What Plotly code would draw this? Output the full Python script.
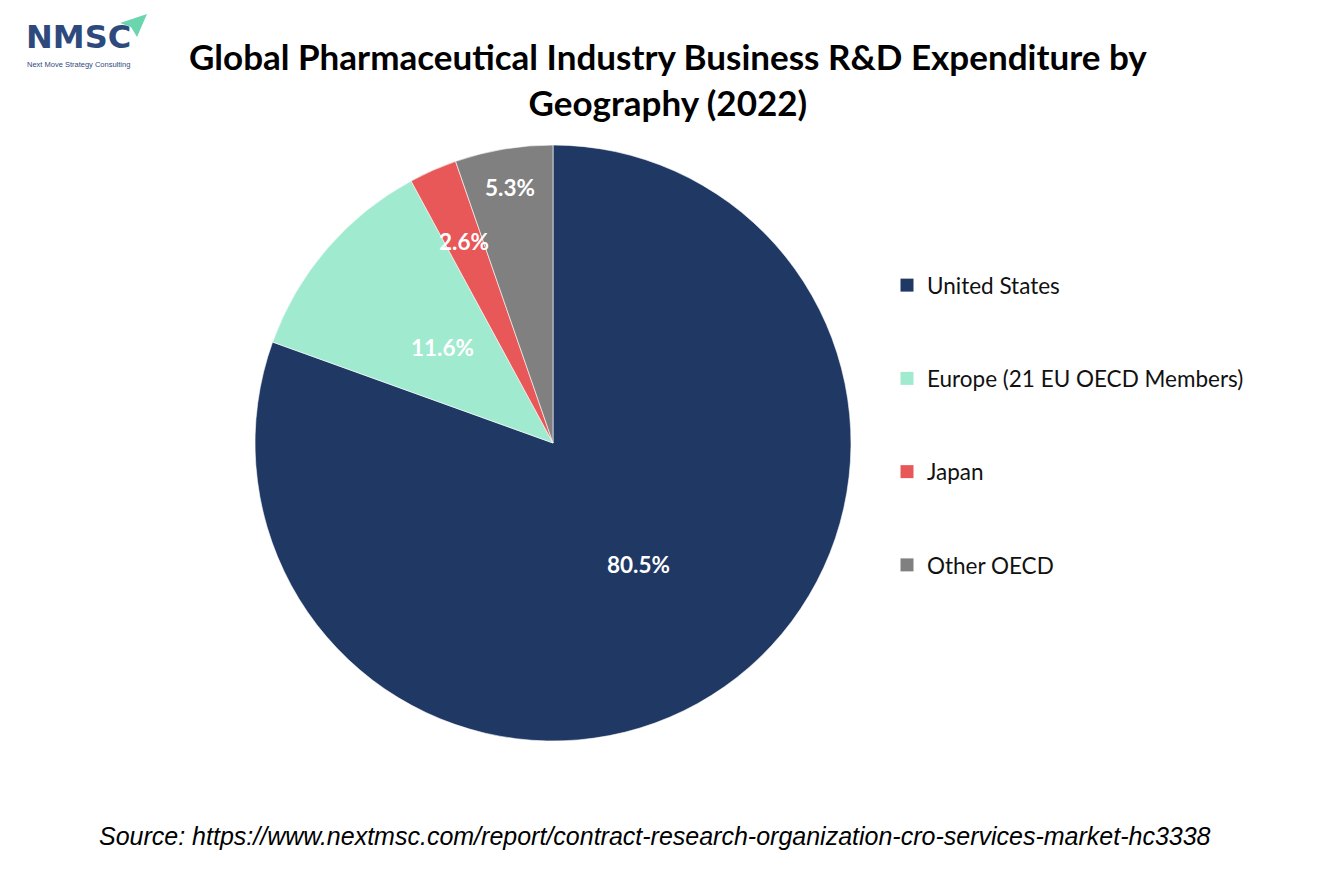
import math
import plotly.graph_objects as go

regions = ["United States", "Europe (21 EU OECD Members)", "Japan", "Other OECD"]
shares = [80.5, 11.6, 2.6, 5.3]
colors = ["#203864", "#A0EAD0", "#E85858", "#808080"]
label_radius = [0.5, 0.49, 0.74, 0.87]  # fraction of radius where each % label sits

title_text = "Global Pharmaceutical Industry Business R&D Expenditure by<br>Geography (2022)"
source_text = "Source: https://www.nextmsc.com/report/contract-research-organization-cro-services-market-hc3338"

W, H = 1334, 889
OFF = 8  # page body margin
CX, CY, R = 553 - OFF, 443 - OFF, 298

fig = go.Figure()
fig.add_trace(go.Pie(
    labels=regions,
    values=shares,
    sort=False,
    direction="clockwise",
    rotation=0,
    marker=dict(colors=colors, line=dict(color="white", width=0.6)),
    textinfo="none",
    showlegend=False,
    hoverinfo="label+value",
    domain=dict(x=[(CX - R) / W, (CX + R) / W], y=[1 - (CY + R) / H, 1 - (CY - R) / H]),
))

for i, (name, col) in enumerate(zip(regions, colors)):
    fig.add_trace(go.Scatter(
        x=[None], y=[None], mode="markers", name=name,
        legendgroup=f"g{i}",
        marker=dict(symbol="square", size=13, color=col),
    ))

annotations = []
total = sum(shares)
cum = 0.0
for v, f in zip(shares, label_radius):
    mid = (cum + v / 2) / total * 2 * math.pi
    cum += v
    px = CX + f * R * math.sin(mid)
    py = CY - f * R * math.cos(mid)
    annotations.append(dict(
        text=f"{v:.1f}%", x=px / W, y=1 - py / H, xref="paper", yref="paper",
        xanchor="center", yanchor="middle", showarrow=False,
        font=dict(family="Lato", size=22.5, color="white", weight="bold"),
    ))

annotations += [
    dict(text=title_text, x=(668 - OFF) / W, y=1 - (79 - OFF) / H, xref="paper", yref="paper",
         xanchor="center", yanchor="middle", showarrow=False,
         font=dict(family="Lato", size=35, color="black", weight="bold")),
    dict(text=source_text, x=(655 - OFF) / W, y=1 - (836 - OFF) / H, xref="paper", yref="paper",
         xanchor="center", yanchor="middle", showarrow=False,
         font=dict(family="Liberation Sans", size=25, color="black", style="italic")),
    dict(text="NMSC", x=(24 - OFF) / W, y=1 - (58 - OFF) / H, xref="paper", yref="paper",
         xanchor="left", yanchor="bottom", showarrow=False,
         font=dict(family="DejaVu Sans", size=32, color="#2E4A7D", weight="bold")),
    dict(text="Next Move Strategy Consulting", x=(25 - OFF) / W, y=1 - (58 - OFF) / H,
         xref="paper", yref="paper", xanchor="left", yanchor="top", showarrow=False,
         font=dict(family="Liberation Sans", size=7.5, color="#2E4A7D")),
]

def pt(x, y):
    return f"{(x - OFF) / W} {1 - (y - OFF) / H}"

fig.update_layout(
    width=W, height=H,
    margin=dict(l=0, r=0, t=0, b=0),
    paper_bgcolor="white", plot_bgcolor="white",
    xaxis=dict(visible=False), yaxis=dict(visible=False),
    legend=dict(
        x=879 / W, y=1 - 256 / H, xanchor="left", yanchor="top",
        font=dict(family="Lato", size=22.5, color="#111111"),
        tracegroupgap=61, itemsizing="trace", itemwidth=30,
        bgcolor="rgba(0,0,0,0)",
    ),
    annotations=annotations,
    shapes=[
        dict(type="path", xref="paper", yref="paper",
             path=f"M {pt(120, 23)} L {pt(147, 14)} L {pt(137, 37)} L {pt(131, 27)} Z",
             fillcolor="#6BD6AE", line=dict(width=0)),
    ],
)

fig.write_html("out.html")
